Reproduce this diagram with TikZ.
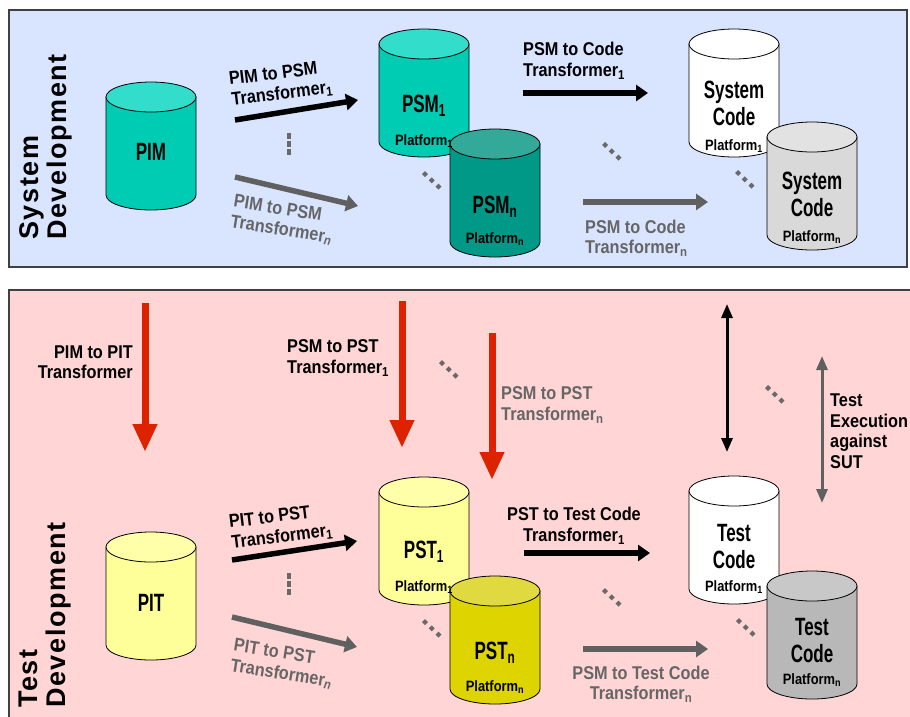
\documentclass[tikz,border=0pt]{standalone}
\usepackage{fontspec}
\setmainfont{Liberation Sans}
\newfontfamily\lblfont[FakeStretch=0.88]{Liberation Sans}
\newfontfamily\cylfont[FakeStretch=0.68]{Liberation Sans}
\newfontfamily\platfont[FakeStretch=0.86]{Liberation Sans}
\newfontfamily\sidefont[LetterSpace=6]{Liberation Sans}
\usetikzlibrary{arrows.meta,calc}

\definecolor{sysbg}{RGB}{217,228,255}
\definecolor{testbg}{RGB}{255,213,213}
\definecolor{tealone}{RGB}{0,204,180}
\definecolor{tealonetop}{RGB}{51,221,204}
\definecolor{tealn}{RGB}{0,153,136}
\definecolor{tealntop}{RGB}{51,170,153}
\definecolor{codegray}{RGB}{217,217,217}
\definecolor{codegraytop}{RGB}{226,226,226}
\definecolor{testgray}{RGB}{184,184,184}
\definecolor{testgraytop}{RGB}{200,200,200}
\definecolor{pale}{RGB}{255,255,153}
\definecolor{paletop}{RGB}{255,255,170}
\definecolor{olive}{RGB}{221,212,0}
\definecolor{olivetop}{RGB}{224,218,64}
\definecolor{arrred}{RGB}{221,34,0}
\definecolor{arrgray}{RGB}{96,96,96}
\definecolor{txtgray}{RGB}{102,102,102}
\definecolor{dotgray}{RGB}{105,105,105}

\tikzset{
  panel/.style={draw=black!75, line width=1.3pt},
  side/.style={rotate=90, inner sep=0pt, align=left, font=\sidefont\bfseries\fontsize{27}{28}\selectfont},
  dbbox/.style={minimum width=90pt, minimum height=128pt, inner sep=0pt, outer sep=0pt},
  dbline/.style={draw=black, line width=0.8pt},
  cyltxt/.style={inner sep=0pt, align=center, font=\cylfont\bfseries\fontsize{25}{27}\selectfont},
  plat/.style={inner sep=0pt, font=\platfont\bfseries\fontsize{15}{16}\selectfont},
  lbl/.style={inner sep=0pt, align=left, font=\lblfont\bfseries\fontsize{18.5}{20.5}\selectfont},
  glbl/.style={lbl, text=txtgray},
  fwd/.style={line width=5.5pt, -{Triangle[length=12pt,width=16pt]}},
  gfwd/.style={fwd, draw=arrgray},
  down/.style={line width=7pt, draw=arrred, -{Triangle[length=28pt,width=23pt]}},
  twoway/.style={line width=3pt, {Triangle[length=14pt,width=11pt]}-{Triangle[length=14pt,width=11pt]}}
}

% cylinder drawn on a named box node
\newcommand{\dbdraw}[3]{%
  \filldraw[dbline, fill=#2] ($(#1.north west)+(0,15)$) -- ($(#1.south west)+(0,-15)$)
    arc[start angle=180, end angle=0, x radius=45, y radius=15] -- ($(#1.north east)+(0,15)$) -- cycle;
  \filldraw[dbline, fill=#3] ($(#1.north)+(0,15)$) ellipse [x radius=45, y radius=15];}
\newcommand{\slantdots}[2]{%
  \foreach \k in {0,1,2}
    \fill[dotgray] ($(#1,#2)+\k*(6.7,6.3)$) +(0,-3) -- +(3,0) -- +(0,3) -- +(-3,0) -- cycle;}
\newcommand{\colondots}[2]{%
  \foreach \k in {0,1,2}
    \fill[dotgray] ($(#1,#2)+\k*(0,8)$) +(-2.2,-2.6) rectangle +(2.2,2.6);}

\begin{document}
\begin{tikzpicture}[x=1pt,y=-1pt]
\useasboundingbox (0,0) rectangle (910,716);

% panels
\draw[panel, fill=sysbg] (9,10) rectangle (907,267);
\draw[panel, fill=testbg] (9,290) rectangle (920,730);

\node[side, anchor=north west] (sysdev) at (19,240) {System\\Development};
\node[side, anchor=north west] (testdev) at (19,708) {Test\\Development};

% system side
\node[dbbox] (pim) at (151,146) {};
\node[dbbox] (psm1) at (424,93) {};
\node[dbbox] (psmn) at (495,193) {};
\node[dbbox] (sc1) at (734,93) {};
\node[dbbox] (scn) at (812,186) {};
\dbdraw{pim}{tealone}{tealonetop}
\dbdraw{psm1}{tealone}{tealonetop}
\dbdraw{psmn}{tealn}{tealntop}
\dbdraw{sc1}{white}{white}
\dbdraw{scn}{codegray}{codegraytop}

\node[cyltxt] (pimt) at ($(pim.center)+(0,6)$) {PIM};
\node[cyltxt] (psm1t) at ($(psm1.center)+(0,13)$) {PSM\textsubscript{1}};
\node[plat] (psm1p) at ($(psm1.center)+(0,48)$) {Platform\textsubscript{1}};
\node[cyltxt] (psmnt) at ($(psmn.center)+(0,14)$) {PSM\textsubscript{n}};
\node[plat] (psmnp) at ($(psmn.center)+(0,46)$) {Platform\textsubscript{n}};
\node[cyltxt] (sc1t) at ($(sc1.center)+(0,10)$) {System\\Code};
\node[plat] (sc1p) at ($(sc1.center)+(0,53)$) {Platform\textsubscript{1}};
\node[cyltxt] (scnt) at ($(scn.center)+(0,8)$) {System\\Code};
\node[plat] (scnp) at ($(scn.center)+(0,51)$) {Platform\textsubscript{n}};

% test side
\node[dbbox] (pit) at (151,596) {};
\node[dbbox] (pst1) at (424,541) {};
\node[dbbox] (pstn) at (495,640) {};
\node[dbbox] (tc1) at (734,540) {};
\node[dbbox] (tcn) at (812,635) {};
\dbdraw{pit}{pale}{paletop}
\dbdraw{pst1}{pale}{paletop}
\dbdraw{pstn}{olive}{olivetop}
\dbdraw{tc1}{white}{white}
\dbdraw{tcn}{testgray}{testgraytop}

\node[cyltxt] (pitt) at ($(pit.center)+(0,7)$) {PIT};
\node[cyltxt] (pst1t) at ($(pst1.center)+(0,11)$) {PST\textsubscript{1}};
\node[plat] (pst1p) at ($(pst1.center)+(0,46)$) {Platform\textsubscript{1}};
\node[cyltxt] (pstnt) at ($(pstn.center)+(0,13)$) {PST\textsubscript{n}};
\node[plat] (pstnp) at ($(pstn.center)+(0,47)$) {Platform\textsubscript{n}};
\node[cyltxt] (tc1t) at ($(tc1.center)+(0,7)$) {Test\\Code};
\node[plat] (tc1p) at ($(tc1.center)+(0,47)$) {Platform\textsubscript{1}};
\node[cyltxt] (tcnt) at ($(tcn.center)+(0,6)$) {Test\\Code};
\node[plat] (tcnp) at ($(tcn.center)+(0,45)$) {Platform\textsubscript{n}};

% dots
\colondots{289}{136}
\colondots{289}{576}
\slantdots{425}{174}
\slantdots{605}{145}
\slantdots{738}{173}
\slantdots{442}{363}
\slantdots{768}{388}
\slantdots{425}{622}
\slantdots{605}{591}
\slantdots{739}{621}

% arrows
\coordinate (f1s) at (235,120);
\coordinate (f1e) at (358,100);
\coordinate (fns) at (235,177);
\coordinate (fne) at (358,206);
\coordinate (c1s) at (523,93);
\coordinate (c1e) at (648,93);
\coordinate (cns) at (583,202);
\coordinate (cne) at (708,202);
\coordinate (g1s) at (232,560);
\coordinate (g1e) at (357,541);
\coordinate (gns) at (232,617);
\coordinate (gne) at (357,647);
\coordinate (t1s) at (524,553);
\coordinate (t1e) at (650,553);
\coordinate (tns) at (583,649);
\coordinate (tne) at (708,649);
\coordinate (r1s) at (145,303);
\coordinate (r1e) at (145,452);
\coordinate (r2s) at (402,301);
\coordinate (r2e) at (402,448);
\coordinate (r3s) at (492,333);
\coordinate (r3e) at (492,480);
\coordinate (x1s) at (727,304);
\coordinate (x1e) at (727,452);
\coordinate (x2s) at (822,356);
\coordinate (x2e) at (822,503);

\draw[fwd] (f1s) -- (f1e);
\draw[gfwd] (fns) -- (fne);
\draw[fwd] (c1s) -- (c1e);
\draw[gfwd] (cns) -- (cne);
\draw[fwd] (g1s) -- (g1e);
\draw[gfwd] (gns) -- (gne);
\draw[fwd] (t1s) -- (t1e);
\draw[gfwd] (tns) -- (tne);
\draw[down] (r1s) -- (r1e);
\draw[down] (r2s) -- (r2e);
\draw[down] (r3s) -- (r3e);
\draw[twoway] (x1s) -- (x1e);
\draw[twoway, draw=arrgray] (x2s) -- (x2e);

% labels
\node[lbl, rotate=7] (lf1) at (281,84) {PIM to PSM\\Transformer\textsubscript{1}};
\node[glbl, rotate=-9] (lfn) at (283,220) {PIM to PSM\\Transformer\textsubscript{\textit{n}}};
\node[lbl, anchor=west] (lc1) at (523,61) {PSM to Code\\Transformer\textsubscript{1}};
\node[glbl, anchor=west] (lcn) at (585,238) {PSM to Code\\Transformer\textsubscript{n}};
\node[lbl, align=right, anchor=east] (lr1) at (133,362) {PIM to PIT\\Transformer};
\node[lbl, anchor=west] (lr2) at (287,358) {PSM to PST\\Transformer\textsubscript{1}};
\node[glbl, anchor=west] (lr3) at (501,405) {PSM to PST\\Transformer\textsubscript{n}};
\node[lbl, anchor=west] (lexe) at (830,431) {Test\\Execution\\against\\SUT};
\node[lbl, rotate=7] (lg1) at (281,527) {PIT to PST\\Transformer\textsubscript{1}};
\node[glbl, rotate=-9] (lgn) at (283,664) {PIT to PST\\Transformer\textsubscript{\textit{n}}};
\node[lbl, align=center] (lt1) at (574,526) {PST to Test Code\\Transformer\textsubscript{1}};
\node[glbl, align=center] (ltn) at (641,684) {PSM to Test Code\\Transformer\textsubscript{n}};

\end{tikzpicture}
\end{document}
